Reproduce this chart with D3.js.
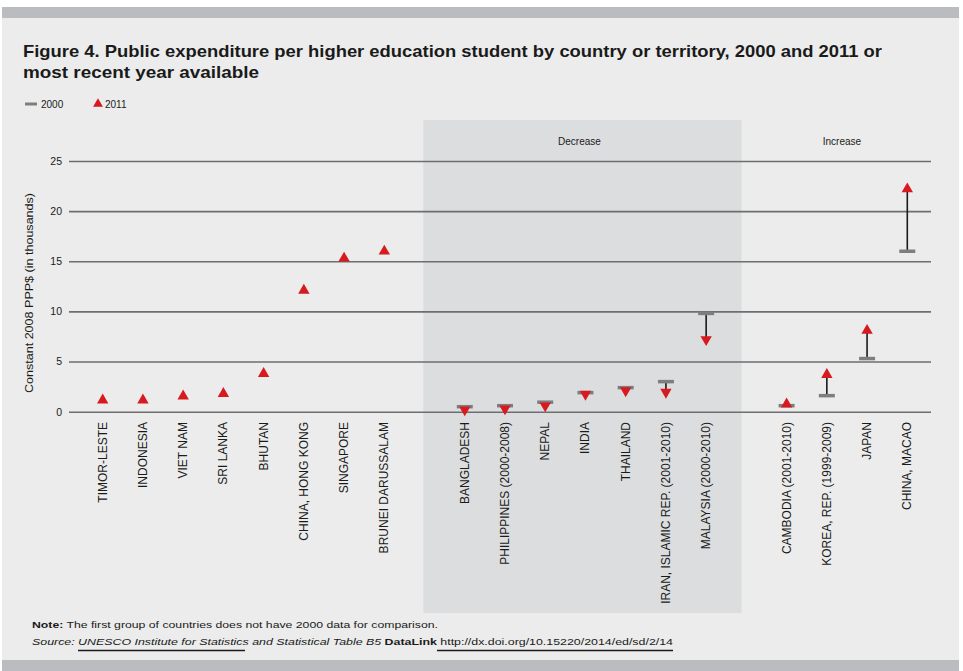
<!DOCTYPE html>
<html><head><meta charset="utf-8">
<script src="https://cdnjs.cloudflare.com/ajax/libs/d3/7.8.5/d3.min.js"></script>
<style>
html,body{margin:0;padding:0;background:#fff;}
svg{display:block;}
text{font-family:"Liberation Sans",Arial,sans-serif;fill:#1a1a1a;}
</style></head>
<body>
<svg id="c" width="963" height="671"></svg>
<script>
// ---- data ----
const noBaseCountries = ["TIMOR-LESTE","INDONESIA","VIET NAM","SRI LANKA","BHUTAN","CHINA, HONG KONG","SINGAPORE","BRUNEI DARUSSALAM"];
const noBase2011 = [1.15,1.15,1.55,1.8,3.8,12.1,15.3,16.0];

const decreaseCountries = ["BANGLADESH","PHILIPPINES (2000-2008)","NEPAL","INDIA","THAILAND","IRAN, ISLAMIC REP. (2001-2010)","MALAYSIA (2000-2010)"];
const decrease2000 = [0.5,0.6,0.95,1.9,2.4,3.0,9.8];
const decrease2011 = [0.2,0.3,0.6,1.75,2.1,1.95,7.2];

const increaseCountries = ["CAMBODIA (2001-2010)","KOREA, REP. (1999-2009)","JAPAN","CHINA, MACAO"];
const increase2000 = [0.6,1.6,5.3,16.0];
const increase2011 = [0.75,3.7,8.1,22.2];

const yTicks = [0,5,10,15,20,25];
const groupLabels = ["Decrease","Increase"];
const legendLabels = ["2000","2011"];

// ---- build ----
const rows = [];
noBaseCountries.forEach((c,i)=>rows.push({c, v0:null, v1:noBase2011[i], dir:"up"}));
decreaseCountries.forEach((c,i)=>rows.push({c, v0:decrease2000[i], v1:decrease2011[i], dir:"down"}));
increaseCountries.forEach((c,i)=>rows.push({c, v0:increase2000[i], v1:increase2011[i], dir:"up"}));

const domain = [...noBaseCountries, "gap1", ...decreaseCountries, "gap2", ...increaseCountries];

const svg = d3.select("#c");

// frame
svg.append("rect").attr("x",2).attr("y",7).attr("width",957).attr("height",664).attr("fill","#ebeceb");
svg.append("rect").attr("x",2).attr("y",7).attr("width",957).attr("height",11).attr("fill","#bbbcc0");
svg.append("rect").attr("x",2).attr("y",660).attr("width",957).attr("height",11).attr("fill","#bbbcc0");

const x = d3.scalePoint().domain(domain).range([102.7, 907.3]);
const y = d3.scaleLinear().domain([0,25]).range([411.7, 161]);
const step = x.step();

// shaded "Decrease" region
const shadeX0 = x("gap1") - step*0.03, shadeX1 = x("gap2") - step*0.12;
svg.append("rect").attr("x",shadeX0).attr("y",120).attr("width",shadeX1-shadeX0).attr("height",493).attr("fill","#dcdddf");

// group labels
svg.append("text").attr("x",(shadeX0+shadeX1)/2 - 3).attr("y",145).attr("text-anchor","middle")
  .style("font-size","10px").text(groupLabels[0]);
svg.append("text").attr("x",(x(increaseCountries[0])+x(increaseCountries[3]))/2 - 5).attr("y",145).attr("text-anchor","middle")
  .style("font-size","10px").text(groupLabels[1]);

// title
svg.append("text").attr("x",23).attr("y",57).style("font-size","17px").style("font-weight","bold")
  .attr("textLength",859).attr("lengthAdjust","spacingAndGlyphs")
  .text("Figure 4. Public expenditure per higher education student by country or territory, 2000 and 2011 or");
svg.append("text").attr("x",23).attr("y",78).style("font-size","17px").style("font-weight","bold")
  .attr("textLength",236).attr("lengthAdjust","spacingAndGlyphs")
  .text("most recent year available");

// legend
svg.append("rect").attr("x",25).attr("y",102.5).attr("width",12).attr("height",3).attr("fill","#7d7e80");
svg.append("text").attr("x",41).attr("y",108).style("font-size","10px").text(legendLabels[0]);
const triUp = d3.symbol().type(d3.symbolTriangle).size(42);
svg.append("path").attr("d",triUp()).attr("transform","translate(98,104)").attr("fill","#d71920");
svg.append("text").attr("x",105).attr("y",108).style("font-size","10px").text(legendLabels[1]);

// gridlines & axis
const yAxis = d3.axisLeft(y).tickValues(yTicks).tickSize(-(931-69)).tickPadding(7);
const gAx = svg.append("g").attr("transform","translate(69,0)").call(yAxis);
gAx.select(".domain").remove();
gAx.selectAll(".tick line").attr("stroke","#6d6e70").attr("stroke-width",1.6);
gAx.selectAll(".tick text").style("font-size","10.5px").style("font-family","'Liberation Sans',Arial,sans-serif").attr("fill","#1a1a1a");

// y axis title
svg.append("text").attr("transform","translate(33,293) rotate(-90)").attr("text-anchor","middle")
  .style("font-size","11px").attr("textLength",200).attr("lengthAdjust","spacingAndGlyphs")
  .text("Constant 2008 PPP$ (in thousands)");

// category labels
svg.append("g").selectAll("text").data(rows).join("text")
  .attr("transform",d=>`translate(${x(d.c)+4},422) rotate(-90)`)
  .attr("text-anchor","end").style("font-size","12px").text(d=>d.c);

// connectors
const withBase = rows.filter(d=>d.v0!==null);
svg.append("g").selectAll("line").data(withBase.filter(d=>Math.abs(y(d.v0)-y(d.v1))>8)).join("line")
  .attr("x1",d=>x(d.c)).attr("x2",d=>x(d.c))
  .attr("y1",d=>y(d.v0))
  .attr("y2",d=>d.dir==="up" ? y(d.v1)+2 : y(d.v1)-2)
  .attr("stroke","#1a1a1a").attr("stroke-width",1.6);

// 2000 markers
svg.append("g").selectAll("rect").data(withBase).join("rect")
  .attr("x",d=>x(d.c)-8).attr("y",d=>y(d.v0)-1.75).attr("width",16).attr("height",3.5).attr("fill","#7d7e80");

// 2011 triangles
const tri = d3.symbol().type(d3.symbolTriangle).size(56);
svg.append("g").selectAll("path").data(rows).join("path")
  .attr("d",tri())
  .attr("transform",d=>`translate(${x(d.c)},${y(d.v1)})` + (d.dir==="down" ? " rotate(180)" : ""))
  .attr("fill","#d71920");

// notes
const n1 = svg.append("text").attr("x",32).attr("y",628).style("font-size","9.5px")
  .attr("textLength",406).attr("lengthAdjust","spacingAndGlyphs");
n1.append("tspan").style("font-weight","bold").text("Note:");
n1.append("tspan").text(" The first group of countries does not have 2000 data for comparison.");

const n2 = svg.append("text").attr("x",32).attr("y",645).style("font-size","9.5px")
  .attr("textLength",641).attr("lengthAdjust","spacingAndGlyphs");
n2.append("tspan").style("font-style","italic").text("Source: ");
n2.append("tspan").style("font-style","italic").text("UNESCO Institute for Statistics");
n2.append("tspan").style("font-style","italic").text(" and Statistical Table B5  ");
n2.append("tspan").style("font-weight","bold").text("DataLink ");
n2.append("tspan").text("http://dx.doi.org/10.15220/2014/ed/sd/2/14");
// underlines
svg.append("line").attr("x1",78).attr("x2",245).attr("y1",650.5).attr("y2",650.5).attr("stroke","#1a1a1a").attr("stroke-width",1.5);
svg.append("line").attr("x1",437).attr("x2",673).attr("y1",650.5).attr("y2",650.5).attr("stroke","#1a1a1a").attr("stroke-width",1.5);
</script>
</body></html>
